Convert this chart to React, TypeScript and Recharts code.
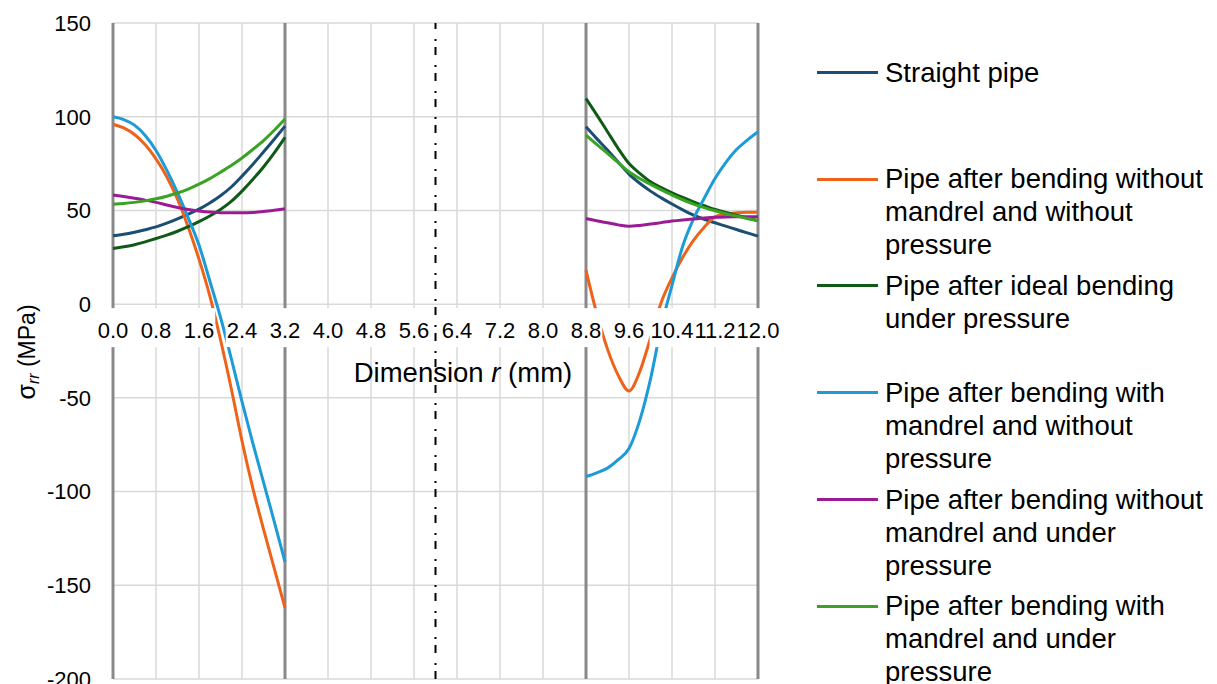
import React from 'react';
import { LineChart, Line, XAxis, YAxis, CartesianGrid, ReferenceLine, ReferenceDot } from 'recharts';

const FONT = '"Liberation Sans", Arial, Helvetica, sans-serif';

// Radial positions (mm) sampled across the inner and outer wall sections
const rInner = [0, 0.2, 0.4, 0.6, 0.8, 1.0, 1.2, 1.4, 1.6, 1.8, 2.0, 2.2, 2.4, 2.6, 2.8, 3.0, 3.2];
const rOuter = [8.8, 9.0, 9.2, 9.4, 9.6, 9.8, 10.0, 10.2, 10.4, 10.6, 10.8, 11.0, 11.2, 11.4, 11.6, 11.8, 12.0];

// Axis ticks
const xTicks = [0, 0.8, 1.6, 2.4, 3.2, 4.0, 4.8, 5.6, 6.4, 7.2, 8.0, 8.8, 9.6, 10.4, 11.2, 12.0];
const yTicks = [-200, -150, -100, -50, 0, 50, 100, 150];

// Wall boundaries and symmetry axis (mm)
const wallBounds = [0, 3.2, 8.8, 12];
const symmetryR = 6;

// Radial stress sigma_rr (MPa)
const straightInner = [36.5, 37.3, 38.4, 39.7, 41.2, 43.2, 45.5, 48.0, 50.7, 54.0, 57.8, 62.5, 68.3, 74.5, 81.2, 88.0, 95.0];
const straightOuter = [94.6, 88.3, 82.2, 75.7, 69.4, 64.5, 60.3, 56.7, 53.4, 50.3, 47.5, 45.3, 43.4, 41.6, 39.8, 38.0, 36.3];

const noMandrelNoPressInner = [96, 94, 90.5, 85, 77.5, 68, 56, 41, 24, 4.5, -19, -45, -73, -98, -120, -141, -162];
const noMandrelNoPressOuter = [18, -5, -24, -38, -46.3, -36, -18, 1, 14, 25, 34, 41, 46.6, 48, 48.7, 49, 49];

const idealPressInner = [29.7, 30.6, 31.7, 33.2, 35.0, 36.8, 38.9, 41.3, 44.0, 47.0, 50.5, 54.8, 60.3, 66.5, 73.2, 80.7, 89.0];
const idealPressOuter = [109.7, 101, 92, 83, 75, 69.8, 65.3, 62.2, 59.4, 56.9, 54.6, 52.5, 50.5, 48.9, 47.5, 46.0, 44.5];

const mandrelNoPressInner = [100, 98.5, 95.5, 90, 82, 71.5, 59.5, 46, 31.5, 12.5, -7, -29, -52, -74, -95, -116, -137.5];
const mandrelNoPressOuter = [-92, -90, -87.5, -83, -77, -62, -40, -12, 10, 31, 45.5, 56.5, 67, 75.5, 82.5, 87.5, 92];

const noMandrelPressInner = [58.2, 57.4, 56.5, 55.5, 54.3, 52.9, 51.6, 50.5, 49.7, 49.1, 48.8, 48.7, 48.7, 48.9, 49.4, 50.1, 50.9];
const noMandrelPressOuter = [45.7, 44.5, 43.4, 42.3, 41.6, 42.0, 42.7, 43.5, 44.3, 44.9, 45.4, 45.9, 46.3, 46.5, 46.6, 46.6, 46.6];

const mandrelPressInner = [53.3, 53.7, 54.3, 55.1, 56.2, 57.6, 59.3, 61.4, 64.0, 67.0, 70.4, 74.0, 78.0, 82.5, 87.3, 92.8, 98.8];
const mandrelPressOuter = [90.2, 85.2, 80.4, 75.5, 70.6, 67.0, 63.9, 61.0, 58.2, 55.7, 53.4, 51.5, 49.8, 48.3, 47.0, 45.7, 44.5];

type Series = { key: string; lines: string[]; color: string; inner: number[]; outer: number[] };

const series: Series[] = [
  { key: 'straight', lines: ['Straight pipe'], color: '#1a4e72', inner: straightInner, outer: straightOuter },
  {
    key: 'noMandrelNoPress',
    lines: ['Pipe after bending without', 'mandrel and without', 'pressure'],
    color: '#ee6219',
    inner: noMandrelNoPressInner,
    outer: noMandrelNoPressOuter,
  },
  {
    key: 'idealPress',
    lines: ['Pipe after ideal bending', 'under pressure'],
    color: '#0e5a16',
    inner: idealPressInner,
    outer: idealPressOuter,
  },
  {
    key: 'mandrelNoPress',
    lines: ['Pipe after bending with', 'mandrel and without', 'pressure'],
    color: '#1c9bd7',
    inner: mandrelNoPressInner,
    outer: mandrelNoPressOuter,
  },
  {
    key: 'noMandrelPress',
    lines: ['Pipe after bending without', 'mandrel and under', 'pressure'],
    color: '#9b1b94',
    inner: noMandrelPressInner,
    outer: noMandrelPressOuter,
  },
  {
    key: 'mandrelPress',
    lines: ['Pipe after bending with', 'mandrel and under', 'pressure'],
    color: '#3aa324',
    inner: mandrelPressInner,
    outer: mandrelPressOuter,
  },
];

// One table: inner section, an empty row (breaks the curves), outer section
const rows: Record<string, number | undefined>[] = [
  ...rInner.map((r, i) => {
    const row: Record<string, number | undefined> = { r };
    series.forEach((s) => (row[s.key] = s.inner[i]));
    return row;
  }),
  { r: symmetryR },
  ...rOuter.map((r, i) => {
    const row: Record<string, number | undefined> = { r };
    series.forEach((s) => (row[s.key] = s.outer[i]));
    return row;
  }),
];

const TICK_FS = 22;
const TITLE_FS = 27.5;

const labelWidth = (s: string) =>
  s.split('').reduce((w, c) => w + (c === '.' ? 0.278 : 0.556), 0) * TICK_FS;

const fmt = (t: number) => t.toFixed(1);

const YTitle = () => (
  <text
    transform="translate(35,352) rotate(-90)"
    textAnchor="middle"
    fontFamily={FONT}
    fontSize={23}
    fill="#000"
  >
    <tspan fontSize={25}>σ</tspan>
    <tspan fontStyle="italic" fontSize={16} dy={4}>
      rr
    </tspan>
    <tspan dy={-4}> (MPa)</tspan>
  </text>
);

const LEGEND_TOP = 72.3;
const LEGEND_STEP = 106.75;

export default function App() {
  return (
    <div style={{ position: 'absolute', left: 0, top: 0, width: 1217, height: 684, background: '#fff', fontFamily: FONT }}>
      <LineChart width={1217} height={684} data={rows} margin={{ top: 23, right: 459, bottom: 5, left: 0 }}>
        <CartesianGrid stroke="#d9d9d9" strokeWidth={1.5} />
        <XAxis dataKey="r" type="number" domain={[0, 12]} ticks={xTicks} hide />
        <YAxis
          type="number"
          domain={[-200, 150]}
          ticks={yTicks}
          interval={0}
          width={113}
          axisLine={false}
          tickLine={false}
          tickSize={0}
          tickMargin={22}
          tick={{ fill: '#000', fontSize: TICK_FS, fontFamily: FONT }}
          label={{ content: () => <YTitle /> }}
        />
        {wallBounds.map((b) => (
          <ReferenceLine key={`wall-${b}`} x={b} stroke="#898989" strokeWidth={3} ifOverflow="visible" />
        ))}
        <ReferenceLine x={symmetryR} stroke="#000" strokeWidth={2} strokeDasharray="8 6 2 10" />
        {series.map((s) => (
          <Line
            key={s.key}
            dataKey={s.key}
            name={s.lines.join(' ')}
            type="monotone"
            stroke={s.color}
            strokeWidth={3}
            dot={false}
            activeDot={false}
            connectNulls={false}
            isAnimationActive={false}
          />
        ))}
        {xTicks.map((t) => (
          <ReferenceDot
            key={`bg-${t}`}
            x={t}
            y={0}
            r={0}
            ifOverflow="visible"
            shape={(p: any) => {
              const w = labelWidth(fmt(t)) + 2;
              return <rect x={p.cx - w / 2} y={p.cy + 4} width={w} height={39} fill="#fff" />;
            }}
          />
        ))}
        {xTicks.map((t) => (
          <ReferenceDot
            key={`lbl-${t}`}
            x={t}
            y={0}
            r={0}
            ifOverflow="visible"
            shape={(p: any) => (
              <text x={p.cx} y={p.cy + 34} textAnchor="middle" fontFamily={FONT} fontSize={TICK_FS} fill="#000">
                {fmt(t)}
              </text>
            )}
          />
        ))}
      </LineChart>

      <div
        style={{
          position: 'absolute',
          left: 263,
          top: 358.7,
          width: 400,
          textAlign: 'center',
          fontSize: TITLE_FS,
          lineHeight: 1,
          color: '#000',
          whiteSpace: 'nowrap',
        }}
      >
        Dimension <i>r</i> (mm)
      </div>

      {series.map((s, i) => {
        const cy = LEGEND_TOP + i * LEGEND_STEP;
        return (
          <React.Fragment key={`leg-${s.key}`}>
            <div style={{ position: 'absolute', left: 817, top: cy - 1.5, width: 61, height: 3, background: s.color }} />
            <div
              style={{
                position: 'absolute',
                left: 885,
                top: cy - 16.7,
                fontSize: TITLE_FS,
                lineHeight: '33px',
                color: '#000',
                whiteSpace: 'nowrap',
              }}
            >
              {s.lines.map((l) => (
                <div key={l}>{l}</div>
              ))}
            </div>
          </React.Fragment>
        );
      })}
    </div>
  );
}
